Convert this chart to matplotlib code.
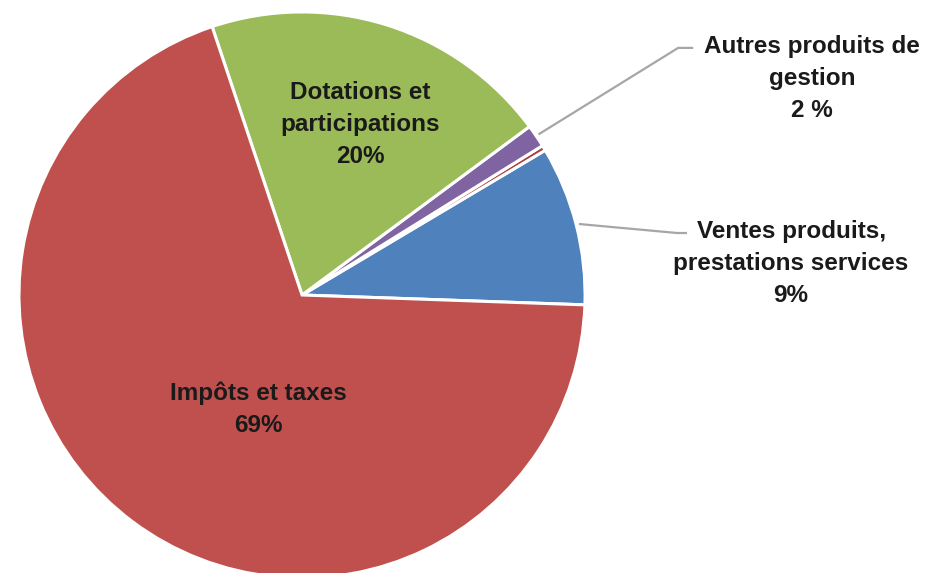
import numpy as np
import matplotlib.pyplot as plt

plt.rcParams['font.family'] = ['Liberation Sans', 'DejaVu Sans']

# slices, counterclockwise from just below 3 o'clock
categories = ["Ventes produits,\nprestations services", "Autres (divers)",
              "Autres produits de\ngestion", "Dotations et\nparticipations",
              "Impôts et taxes"]
values = [9.1, 0.3, 1.3, 20.0, 69.3]
colors = ["#4F81BD", "#A5403D", "#8064A2", "#9BBB59", "#C0504D"]
pct_labels = ["9%", None, "2 %", "20%", "69%"]

fig = plt.figure(figsize=(9.25, 5.73), dpi=100)
ax = fig.add_axes([0, 0, 1, 1])

wedges, _ = ax.pie(values, colors=colors, startangle=-2, counterclock=True,
                   radius=1.0, center=(0, 0),
                   wedgeprops=dict(edgecolor="white", linewidth=2.2))
ax.set_xlim(-1.067, 2.201)
ax.set_ylim(-0.982, 1.042)
ax.set_aspect("equal")
ax.axis("off")

fs = 17.5
ls = 1.5
txt = "#1A1A1A"
# inside labels
ax.text(0.205, 0.603, categories[3] + "\n" + pct_labels[3], ha="center", va="center",
        fontsize=fs, fontweight="bold", linespacing=ls, color=txt)
ax.text(-0.155, -0.403, categories[4] + "\n" + pct_labels[4], ha="center", va="center",
        fontsize=fs, fontweight="bold", linespacing=ls, color=txt)

# outside labels with leader lines
outside = [(0, (1.728, 0.112), (1.325, 0.219), (1.36, 0.219)),
           (2, (1.802, 0.765), (1.329, 0.873), (1.382, 0.873))]
for i, (lx, ly), (kx, ky), (ex, ey) in outside:
    w = wedges[i]
    mid = np.deg2rad((w.theta1 + w.theta2) / 2)
    sx, sy = 1.01 * np.cos(mid), 1.01 * np.sin(mid)
    ax.plot([sx, kx, ex], [sy, ky, ey], color="#A6A6A6", lw=1.6,
            solid_capstyle="butt")
    ax.text(lx, ly, categories[i] + "\n" + pct_labels[i], ha="center", va="center",
            fontsize=fs, fontweight="bold", linespacing=ls, color=txt)

fig.savefig("out.png", dpi=100)
